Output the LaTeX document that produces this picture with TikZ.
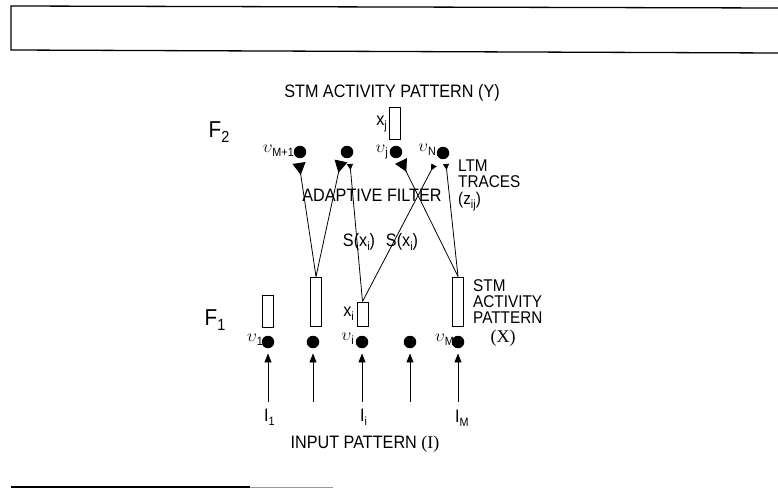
\documentclass[tikz,border=0pt]{standalone}
\usepackage{fontspec}
\setmainfont{Liberation Sans}[FakeStretch=0.9]
\newfontfamily\seriffont{Liberation Serif}
\usetikzlibrary{arrows.meta}
\newcommand{\ulab}[1]{$\upsilon$\raisebox{-0.45ex}{\fontsize{12}{12}\selectfont #1}}
\newcommand{\sublab}[2]{#1\raisebox{-0.45ex}{\fontsize{12}{12}\selectfont #2}}
\tikzset{
  dot/.style={circle, fill=black, inner sep=0pt, minimum size=12.5pt},
  stmbox/.style={draw, line width=1pt, inner sep=0pt, minimum width=11pt},
  lab/.style={inner sep=0pt, font=\fontsize{18}{15}\selectfont},
  sidelab/.style={inner sep=0pt, anchor=west, font=\fontsize{17}{15}\selectfont},
  biglab/.style={inner sep=0pt, font=\fontsize{23}{23}\selectfont},
  conn/.style={line width=0.8pt},
  bigknob/.style={conn, -{Triangle[reversed, length=12pt, width=13pt]}},
  smallknob/.style={conn, -{Triangle[reversed, length=6pt, width=6pt]}},
  inarrow/.style={conn, -{Triangle[length=9pt, width=7pt]}, shorten >=5pt},
  frameline/.style={line width=1.3pt},
}
\begin{document}
\begin{tikzpicture}[x=1pt, y=-1pt]
\useasboundingbox (0,0) rectangle (778,489);
% frame
\draw[frameline] (778,8) -- (11,6) -- (11,50) -- (778,53);
\draw[frameline] (11,487) -- (250,487);
\draw[line width=1pt, black!40] (250,487.5) -- (333,487.5);

% F2 layer
\node[biglab] (F2) at (219,132) {\sublab{F}{\fontsize{16}{16}\selectfont 2}};
\node[lab] (titleY) at (392,93) {STM ACTIVITY PATTERN (Y)};
\node[stmbox, minimum height=32pt] (Bj) at (394.5,124) {};
\node[lab, anchor=east] (xj) at (387,124) {\sublab{x}{j}};
\node[dot] (dM1) at (300,152) {};
\node[dot] (d2) at (347,152) {};
\node[dot] (dj) at (396,152) {};
\node[dot] (dN) at (443,153) {};
\node[lab, anchor=east] (lM1) at (294,151) {\ulab{M+1}};
\node[lab, anchor=east] (lj) at (388,152) {\ulab{j}};
\node[lab, anchor=east] (lN) at (436,150) {\ulab{N}};

% knob ends
\coordinate (K1) at (299,163);
\coordinate (K2) at (341,161);
\coordinate (K3) at (350,164);
\coordinate (K4) at (401,161);
\coordinate (K5) at (434,165);
\coordinate (K6) at (446,164);

% F1 layer
\node[biglab] (F1) at (215,320) {\sublab{F}{\fontsize{16}{16}\selectfont 1}};
\node[stmbox, minimum height=32pt] (B1) at (267.5,311) {};
\node[stmbox, minimum height=49pt] (B2) at (316,301.5) {};
\node[stmbox, minimum height=24pt] (Bi) at (362.5,314) {};
\node[stmbox, minimum height=49pt] (BM) at (458,301.5) {};
\node[lab, anchor=east] (xi) at (354,314) {\sublab{x}{i}};
\node[dot] (e1) at (268,342) {};
\node[dot] (e2) at (313,342) {};
\node[dot] (ei) at (362,342) {};
\node[dot] (e4) at (410,342) {};
\node[dot] (eM) at (458,342) {};
\node[lab, anchor=east] (l1) at (263,340) {\ulab{1}};
\node[lab, anchor=east] (li) at (354,339) {\ulab{i}};
\node[lab, anchor=east] (lM) at (454,340) {\ulab{M}};

% adaptive filter connections
\draw[bigknob] (B2.north) -- (K1);
\draw[bigknob] (B2.north) -- (K2);
\draw[smallknob] (Bi.north) -- (K3);
\draw[bigknob] (BM.north) -- (K4);
\draw[smallknob] (Bi.north) -- (K5);
\draw[smallknob] (BM.north) -- (K6);

% labels in the filter
\node[lab] (af) at (372,195) {ADAPTIVE FILTER};
\node[sidelab] (ltm1) at (458,166) {LTM};
\node[sidelab] (ltm2) at (458,182) {TRACES};
\node[sidelab] (ltm3) at (458,202) {(\sublab{z}{ij})};
\node[lab] (s1) at (359,242) {S(\sublab{x}{i})};
\node[lab] (s2) at (402,242) {S(\sublab{x}{i})};
\node[sidelab] (stm1) at (473,286) {STM};
\node[sidelab] (stm2) at (473,302) {ACTIVITY};
\node[sidelab] (stm3) at (473,318) {PATTERN};
\node[lab, font=\seriffont\fontsize{18}{18}\selectfont] (X) at (503,338) {(X)};

% inputs
\coordinate (i1) at (268,402);
\coordinate (i2) at (313,402);
\coordinate (ii) at (362,402);
\coordinate (i4) at (410,402);
\coordinate (iM) at (458,402);
\draw[inarrow] (i1) -- (e1);
\draw[inarrow] (i2) -- (e2);
\draw[inarrow] (ii) -- (ei);
\draw[inarrow] (i4) -- (e4);
\draw[inarrow] (iM) -- (eM);
\node[lab, anchor=west] (I1) at (264,417) {\sublab{I}{1}};
\node[lab, anchor=west] (Ii) at (360,417) {\sublab{I}{i}};
\node[lab, anchor=west] (IM) at (455,418) {\sublab{I}{M}};
\node[lab] (inp) at (365,444) {INPUT PATTERN {\seriffont (I)}};
\end{tikzpicture}
\end{document}
